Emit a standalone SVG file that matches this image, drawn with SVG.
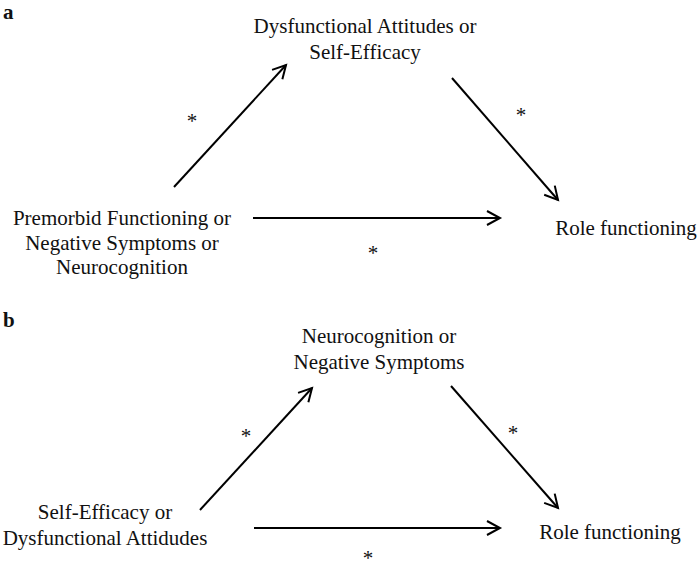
<svg xmlns="http://www.w3.org/2000/svg" width="698" height="571" viewBox="0 0 698 571">
<defs>
<style>
text{font-family:"Liberation Serif","Times New Roman",serif;font-size:21px;fill:#111;}
.lbl{font-weight:bold;}
.c{text-anchor:middle;}
.edge{stroke:#000;stroke-width:2;fill:none;marker-end:url(#ah);}
</style>
<marker id="ah" markerUnits="userSpaceOnUse" markerWidth="20" markerHeight="20" viewBox="-16 -10 20 20" refX="0" refY="0" orient="auto" overflow="visible">
<path d="M-13,-7 L0,0 L-13,7" fill="none" stroke="#000" stroke-width="2"/>
</marker>
</defs>
<rect width="698" height="571" fill="#fff"/>
<text class="lbl" x="3" y="19">a</text>
<text class="lbl" x="3" y="327">b</text>
<g id="a-mediator"><text class="c" x="365" y="33">Dysfunctional Attitudes or</text><text class="c" x="365" y="59">Self-Efficacy</text></g>
<g id="a-predictor"><text class="c" x="122" y="225">Premorbid Functioning or</text><text class="c" x="122" y="250">Negative Symptoms or</text><text class="c" x="122" y="274">Neurocognition</text></g>
<g id="a-outcome"><text class="c" x="626" y="235">Role functioning</text></g>
<g id="b-mediator"><text class="c" x="379" y="343">Neurocognition or</text><text class="c" x="379" y="369">Negative Symptoms</text></g>
<g id="b-predictor"><text class="c" x="105" y="519">Self-Efficacy or</text><text class="c" x="105" y="545">Dysfunctional Attidudes</text></g>
<g id="b-outcome"><text class="c" x="610" y="539">Role functioning</text></g>
<g id="connectors">
<line class="edge" x1="174" y1="187" x2="286" y2="65"/>
<line class="edge" x1="452" y1="78" x2="558" y2="200"/>
<line class="edge" x1="253" y1="218" x2="500" y2="218"/>
<line class="edge" x1="200" y1="510" x2="312" y2="388"/>
<line class="edge" x1="451" y1="386" x2="558" y2="508"/>
<line class="edge" x1="254" y1="528" x2="500" y2="528"/>
<text class="c" x="192" y="128">*</text>
<text class="c" x="521" y="122">*</text>
<text class="c" x="373" y="260">*</text>
<text class="c" x="246" y="443">*</text>
<text class="c" x="513" y="440">*</text>
<text class="c" x="368" y="565">*</text>
</g>
</svg>
